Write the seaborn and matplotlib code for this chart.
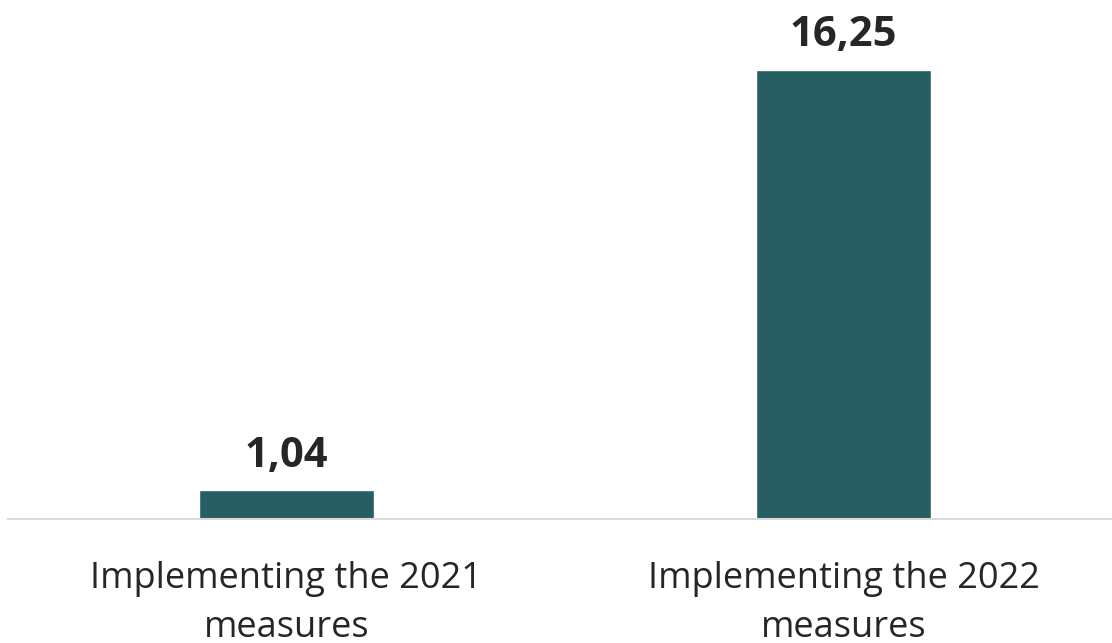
import seaborn as sns
import matplotlib.pyplot as plt
import pandas as pd

categories = ["Implementing the 2021\nmeasures", "Implementing the 2022\nmeasures"]
values = [1.04, 16.25]
value_labels = ["1,04", "16,25"]

df = pd.DataFrame({"measure": categories, "value": values})

sns.set_theme(style="white")
plt.rcParams['font.family'] = ['Open Sans', 'DejaVu Sans']

fig = plt.figure(figsize=(11.12, 6.43), dpi=100)
ax = fig.add_axes([8 / 1112, 124 / 643, 1114 / 1112, 519 / 643])

sns.barplot(data=df, x="measure", y="value", color="#275E63", width=0.314,
            saturation=1, ax=ax)

for i, (v, lab) in enumerate(zip(values, value_labels)):
    ax.annotate(lab, (i, v), xytext=(0, 17), textcoords="offset points",
                ha="center", va="baseline", fontsize=30, fontweight="bold",
                color="#262626")

ax.set_xlim(-0.5, 1.5)
ax.set_ylim(0, 16.25 * 519 / 449)
ax.set_xlabel("")
ax.set_ylabel("")
ax.set_yticks([])
for s in ["top", "right", "left"]:
    ax.spines[s].set_visible(False)
ax.spines["bottom"].set_color("#D9D9D9")
ax.spines["bottom"].set_linewidth(1.5)
ax.tick_params(axis="x", length=0, pad=30, labelsize=26, labelcolor="#262626")
for t in ax.get_xticklabels():
    t.set_linespacing(1.5)

fig.savefig("out.png", dpi=100)
